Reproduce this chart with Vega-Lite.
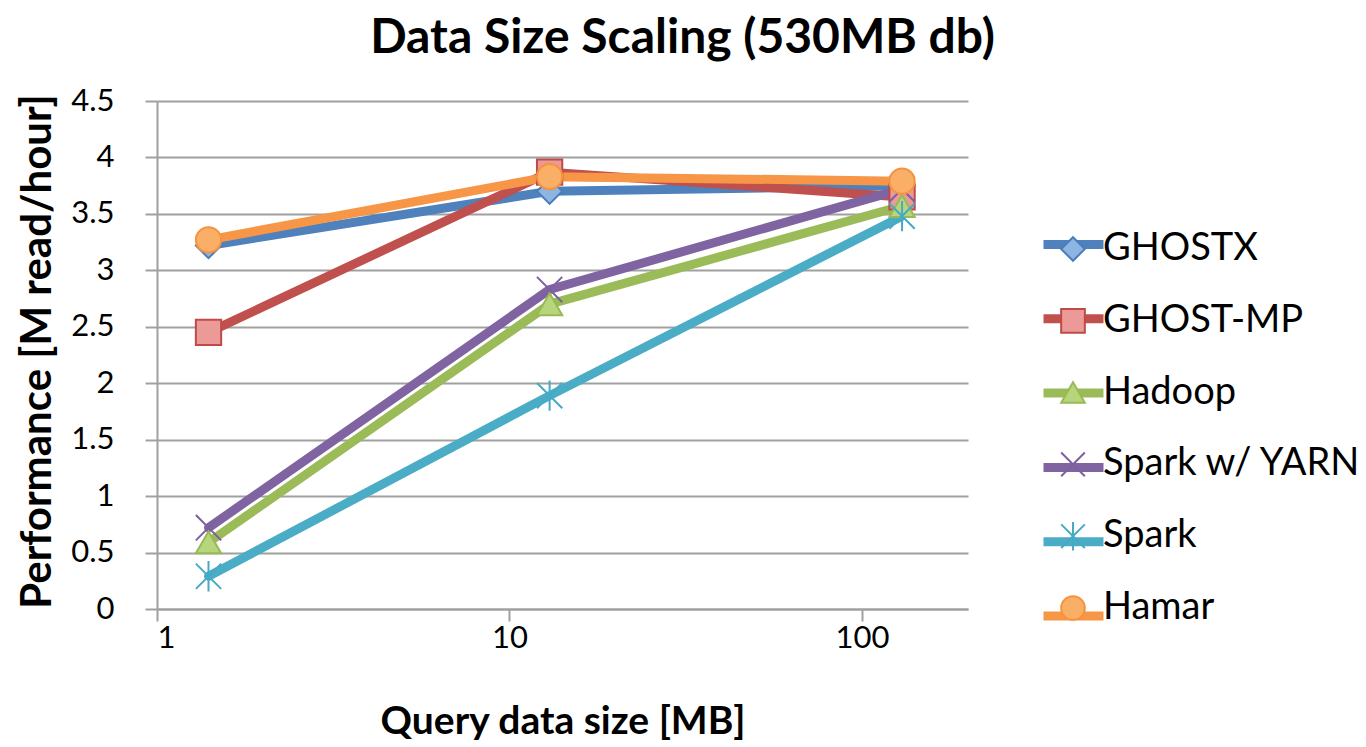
{
  "$schema": "https://vega.github.io/schema/vega-lite/v6.json",
  "width": 811,
  "height": 508,
  "autosize": {"type": "none"},
  "padding": {"left": 157, "top": 101, "right": 398, "bottom": 138},
  "background": "white",
  "config": {
    "font": "Lato",
    "view": {"stroke": null},
    "axis": {
      "labelFont": "Lato",
      "labelFontSize": 31,
      "labelColor": "black",
      "titleFont": "Lato",
      "titleFontWeight": "bold",
      "titleColor": "black",
      "domainColor": "#A0A0A0",
      "domainWidth": 2,
      "tickColor": "#A0A0A0",
      "tickWidth": 2,
      "tickSize": 12,
      "gridColor": "#A0A0A0",
      "gridWidth": 2
    }
  },
  "title": {
    "text": "Data Size Scaling (530MB db)",
    "font": "Lato",
    "fontSize": 48,
    "fontWeight": "bold",
    "color": "black",
    "anchor": "middle",
    "frame": "group",
    "dx": 120,
    "baseline": "alphabetic",
    "offset": -16
  },
  "data": {
    "values": [
      {"series": "GHOSTX", "size": 1.4, "perf": 3.22},
      {"series": "GHOSTX", "size": 13, "perf": 3.70},
      {"series": "GHOSTX", "size": 130, "perf": 3.75},
      {"series": "GHOST-MP", "size": 1.4, "perf": 2.45},
      {"series": "GHOST-MP", "size": 13, "perf": 3.87},
      {"series": "GHOST-MP", "size": 130, "perf": 3.65},
      {"series": "Hadoop", "size": 1.4, "perf": 0.59},
      {"series": "Hadoop", "size": 13, "perf": 2.70},
      {"series": "Hadoop", "size": 130, "perf": 3.57},
      {"series": "Spark w/ YARN", "size": 1.4, "perf": 0.72},
      {"series": "Spark w/ YARN", "size": 13, "perf": 2.83},
      {"series": "Spark w/ YARN", "size": 130, "perf": 3.72},
      {"series": "Spark", "size": 1.4, "perf": 0.29},
      {"series": "Spark", "size": 13, "perf": 1.89},
      {"series": "Spark", "size": 130, "perf": 3.48},
      {"series": "Hamar", "size": 1.4, "perf": 3.27},
      {"series": "Hamar", "size": 13, "perf": 3.83},
      {"series": "Hamar", "size": 130, "perf": 3.79}
    ]
  },
  "encoding": {
    "x": {
      "field": "size",
      "type": "quantitative",
      "scale": {"type": "log", "domain": [1, 200], "nice": false},
      "axis": {
        "title": "Query data size [MB]",
        "titleFontSize": 39,
        "values": [1, 10, 100],
        "format": "d",
        "grid": false,
        "labelPadding": 2,
        "titleBaseline": "alphabetic",
        "titleY": 124,
        "titleX": 405.5
      }
    },
    "y": {
      "field": "perf",
      "type": "quantitative",
      "scale": {"domain": [0, 4.5], "nice": false, "zero": true},
      "axis": {
        "title": "Performance [M read/hour]",
        "titleFontSize": 42,
        "values": [0, 0.5, 1, 1.5, 2, 2.5, 3, 3.5, 4, 4.5],
        "format": "~g",
        "grid": true,
        "labelPadding": 31,
        "titleX": -107,
        "titleY": 250,
        "titleBaseline": "alphabetic",
        "titleAlign": "center"
      }
    }
  },
  "layer": [
    {
      "mark": {"type": "line", "strokeWidth": 9, "strokeJoin": "round", "strokeCap": "round"},
      "encoding": {
        "color": {
          "field": "series",
          "type": "nominal",
          "sort": ["GHOSTX", "GHOST-MP", "Hadoop", "Spark w/ YARN", "Spark", "Hamar"],
          "scale": {
            "range": ["#4F81BD", "#C0504D", "#9BBB59", "#8064A2", "#4BACC6", "#F79646"]
          },
          "legend": {
            "title": null,
            "orient": "none",
            "legendX": 882,
            "legendY": 109,
            "padding": 0,
            "symbolType": "stroke",
            "symbolSize": 3600,
            "symbolStrokeWidth": 9,
            "labelFont": "Lato",
            "labelFontSize": 39,
            "labelExpr": "''",
            "labelColor": "transparent",
            "labelOffset": 0,
            "rowPadding": 19.3,
            "labelLimit": 400
          }
        }
      }
    },
    {
      "mark": {"type": "point", "filled": true, "opacity": 1, "size": 640, "strokeWidth": 2},
      "encoding": {
        "shape": {
          "field": "series",
          "type": "nominal",
          "scale": {
            "domain": ["GHOSTX", "GHOST-MP", "Hadoop", "Spark w/ YARN", "Spark", "Hamar"],
            "range": ["diamond", "square", "triangle-up", "M-1,-1L1,1M-1,1L1,-1", "M-1,-1L1,1M-1,1L1,-1M0,-1.2L0,1.2", "circle"]
          },
          "legend": {
            "title": null,
            "orient": "none",
            "legendX": 897,
            "legendY": 129,
            "padding": 0,
            "symbolSize": 560,
            "symbolStrokeWidth": 2,
            "labelFont": "Lato",
            "labelFontSize": 38,
            "labelColor": "black",
            "labelOffset": 11,
            "rowPadding": 33.8,
            "labelLimit": 400
          }
        },
        "fill": {
          "field": "series",
          "type": "nominal",
          "scale": {
            "domain": ["GHOSTX", "GHOST-MP", "Hadoop", "Spark w/ YARN", "Spark", "Hamar"],
            "range": ["#8DB4E3", "#EC9A98", "#B7D67C", "#8064A2", "#4BACC6", "#F9AF66"]
          }
        },
        "stroke": {
          "field": "series",
          "type": "nominal",
          "scale": {
            "domain": ["GHOSTX", "GHOST-MP", "Hadoop", "Spark w/ YARN", "Spark", "Hamar"],
            "range": ["#4A7EBB", "#BE4B48", "#98B954", "#7D60A0", "#46AAC5", "#F69240"]
          }
        }
      }
    }
  ]
}
